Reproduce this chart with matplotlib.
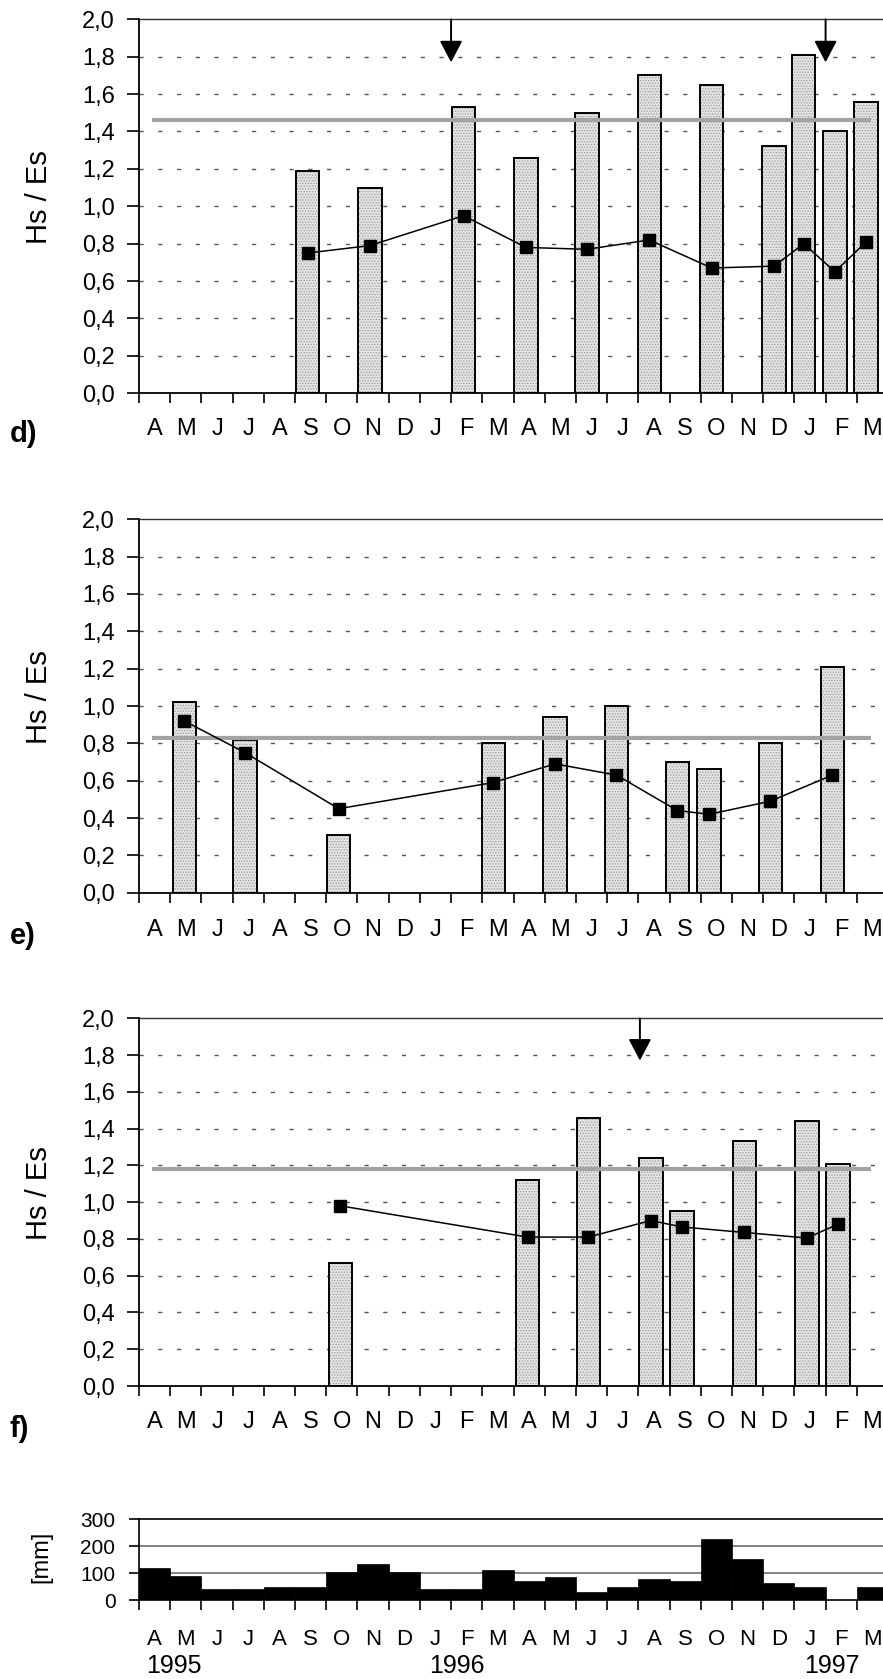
import matplotlib
matplotlib.use('Agg')
import matplotlib.pyplot as plt
from matplotlib.ticker import FixedLocator, FuncFormatter, NullFormatter
from matplotlib.transforms import blended_transform_factory
import numpy as np

plt.rcParams['font.family'] = ['Liberation Sans', 'DejaVu Sans']
plt.rcParams['hatch.linewidth'] = 0.6

# ---------------- data ----------------
months = ['A', 'M', 'J', 'J', 'A', 'S', 'O', 'N', 'D', 'J', 'F', 'M',
          'A', 'M', 'J', 'J', 'A', 'S', 'O', 'N', 'D', 'J', 'F', 'M']
years = ['1995', '1996', '1997']
year_pos = [1.12, 10.17, 22.2]

# panel d (time in months since April 1995)
d_time = [5.4, 7.4, 10.4, 12.4, 14.35, 16.35, 18.35, 20.35, 21.3, 22.3, 23.3]
d_bar = [1.19, 1.10, 1.53, 1.26, 1.50, 1.70, 1.65, 1.32, 1.81, 1.40, 1.56]
d_line = [0.75, 0.79, 0.95, 0.78, 0.77, 0.82, 0.67, 0.68, 0.80, 0.65, 0.81]
d_mean = 1.46
d_arrows = [10.0, 22.0]

# panel e
e_time = [1.45, 3.4, 6.4, 11.35, 13.33, 15.3, 17.25, 18.27, 20.23, 22.22]
e_bar = [1.02, 0.82, 0.31, 0.80, 0.94, 1.00, 0.70, 0.66, 0.80, 1.21]
e_line = [0.92, 0.75, 0.45, 0.59, 0.69, 0.63, 0.44, 0.42, 0.49, 0.63]
e_mean = 0.83
e_arrows = []

# panel f
f_time = [6.45, 12.45, 14.4, 16.4, 17.4, 19.4, 21.4, 22.4]
f_bar = [0.67, 1.12, 1.46, 1.24, 0.95, 1.33, 1.44, 1.21]
f_line = [0.98, 0.81, 0.81, 0.90, 0.865, 0.835, 0.805, 0.88]
f_mean = 1.18
f_arrows = [16.05]

# monthly precipitation [mm]
precip = [118, 90, 42, 42, 49, 49, 105, 133, 105, 42, 42, 111,
          71, 85, 31, 49, 78, 72, 227, 152, 64, 49, 0, 49]

# ---------------- layout ----------------
W, H = 883, 1679
fig = plt.figure(figsize=(W / 100, H / 100), dpi=100)

LEFT = 139
AXW = 749


def add_ax(top, bot):
    return fig.add_axes([LEFT / W, 1 - bot / H, AXW / W, (bot - top) / H])


def comma(v, pos):
    return f"{v:.1f}".replace('.', ',')


panels = [
    (19.3, 393.3, d_time, d_bar, d_line, d_mean, d_arrows, 'd)', 434, 18),
    (519.3, 892.7, e_time, e_bar, e_line, e_mean, e_arrows, 'e)', 936, 19),
    (1018.3, 1386.0, f_time, f_bar, f_line, f_mean, f_arrows, 'f)', 1429, 18),
]

for top, bot, t, b, l, m, arrows, lab, laby, xpad in panels:
    ax = add_ax(top, bot)
    ax.set_xlim(0, 24)
    ax.set_ylim(0, 2.0)
    ax.spines['right'].set_visible(False)
    ax.spines['top'].set_color('#303030')
    ax.spines['top'].set_linewidth(1.0)
    ax.spines['left'].set_linewidth(1.3)
    ax.spines['bottom'].set_linewidth(1.3)

    # dotted grid
    for g in np.arange(0.2, 1.81, 0.2):
        ax.axhline(g, color='#555555', lw=1.0, ls=(0, (3.0, 10.5)), zorder=1)

    # stippled bars: dotted fill + black outline
    ax.bar(t, b, width=0.75, color='#e4e4e4', edgecolor='#9a9a9a', hatch='......',
           linewidth=0, zorder=2)
    ax.bar(t, b, width=0.75, fill=False, edgecolor='black', linewidth=1.4, zorder=2.5)
    ax.hlines(m, 0.42, 23.45, color='#a3a3a3', lw=3.0, zorder=3)
    ax.plot(t, l, color='black', lw=1.1, marker='s', markersize=8, zorder=4)

    for a in arrows:
        ax.annotate('', xy=(a, 1.77), xytext=(a, 2.0),
                    arrowprops=dict(arrowstyle='-|>,head_length=0.95,head_width=0.5',
                                    lw=1.4, color='black', shrinkA=0, shrinkB=0,
                                    mutation_scale=14), zorder=5)

    ax.yaxis.set_major_locator(FixedLocator(np.arange(0, 2.01, 0.2)))
    ax.yaxis.set_major_formatter(FuncFormatter(comma))
    ax.tick_params(axis='y', direction='out', length=9, width=1.2, pad=8.5, labelsize=17)

    ax.xaxis.set_major_locator(FixedLocator(np.arange(0, 25)))
    ax.xaxis.set_major_formatter(NullFormatter())
    ax.xaxis.set_minor_locator(FixedLocator(np.arange(24) + 0.5))
    ax.set_xticklabels(months, minor=True)
    ax.tick_params(axis='x', which='major', direction='out', length=7, width=1.2)
    ax.tick_params(axis='x', which='minor', length=0, pad=xpad, labelsize=17)

    fig.text(10 / W, 1 - laby / H, lab, fontsize=21, fontweight='bold', ha='left', va='center')
    yc = (top + bot) / 2 - 9
    fig.text(39 / W, 1 - yc / H, 'Hs / Es', fontsize=21, rotation=90, ha='center', va='center')

# precipitation panel
ax4 = add_ax(1519.3, 1600.3)
ax4.set_xlim(0, 24)
ax4.set_ylim(0, 300)
ax4.spines['right'].set_visible(False)
ax4.spines['top'].set_linewidth(1.2)
ax4.spines['left'].set_linewidth(1.2)
ax4.spines['bottom'].set_linewidth(1.2)
for g in [100, 200]:
    ax4.axhline(g, color='#6e6e6e', lw=1.2, zorder=1)
ax4.bar(np.arange(24) + 0.5, precip, width=1.0, color='black', edgecolor='black',
        linewidth=0.5, zorder=2)
ax4.yaxis.set_major_locator(FixedLocator([0, 100, 200, 300]))
ax4.tick_params(axis='y', direction='out', length=7, width=1.2, pad=10, labelsize=15)
ax4.xaxis.set_major_locator(FixedLocator(np.arange(0, 25)))
ax4.xaxis.set_major_formatter(NullFormatter())
ax4.xaxis.set_minor_locator(FixedLocator(np.arange(24) + 0.5))
ax4.set_xticklabels(months, minor=True)
ax4.tick_params(axis='x', which='major', direction='out', length=7, width=1.2)
ax4.tick_params(axis='x', which='minor', length=0, pad=21, labelsize=16)

trans = blended_transform_factory(ax4.transData, fig.transFigure)
for y, p in zip(years, year_pos):
    ax4.text(p, 1 - 1666 / H, y, transform=trans, fontsize=18, ha='center', va='center')

fig.text(41 / W, 1 - 1557 / H, '[mm]', fontsize=17, rotation=90, ha='center', va='center')

fig.savefig('out.png', dpi=100)
